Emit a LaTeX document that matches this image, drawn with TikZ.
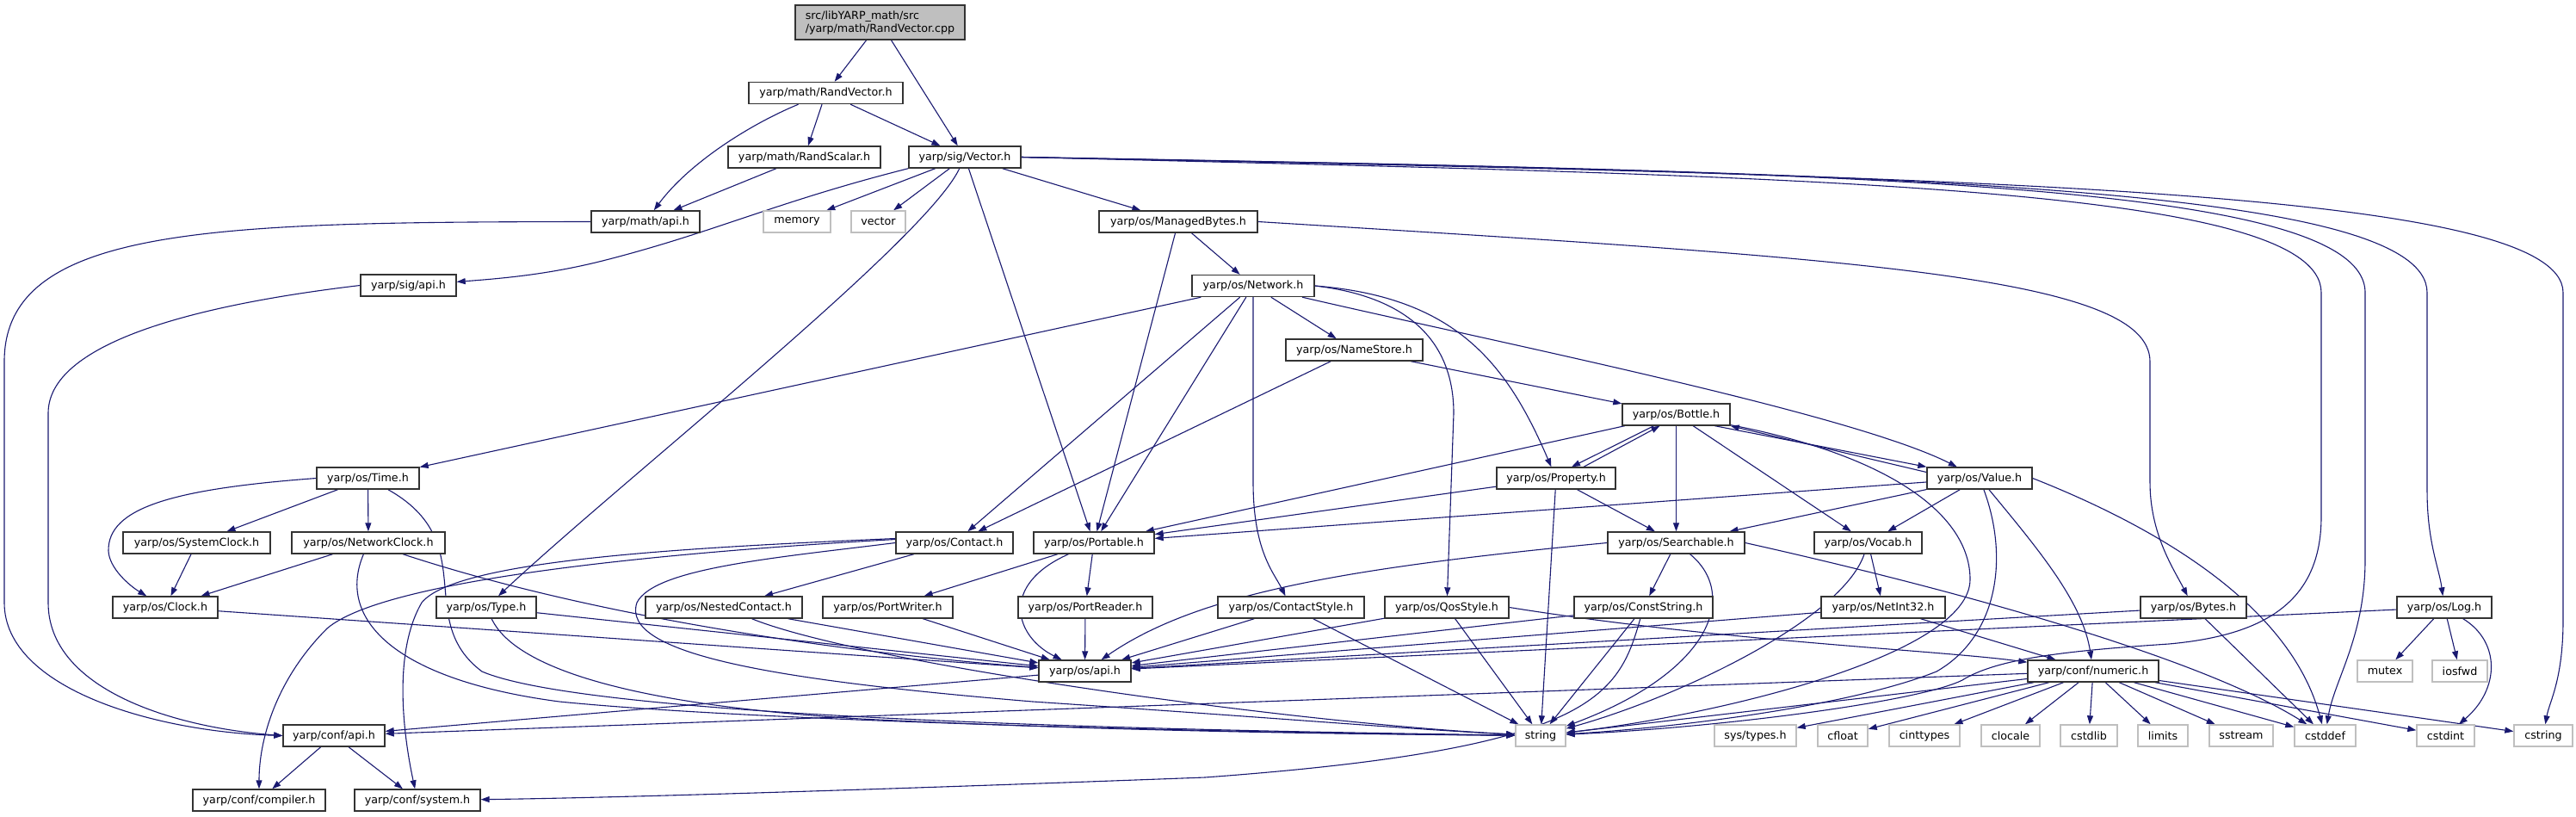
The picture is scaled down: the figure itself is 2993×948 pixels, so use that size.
\documentclass[tikz,border=0pt]{standalone}
\usepackage{fontspec}
\setmainfont{DejaVu Sans}
\usetikzlibrary{arrows.meta}
\definecolor{edgec}{HTML}{191970}
\definecolor{boxc}{HTML}{333333}
\definecolor{extc}{HTML}{BFBFBF}
\definecolor{rootf}{HTML}{BFBFBF}
\pgfdeclarelayer{bg}
\pgfsetlayers{bg,main}
\begin{document}
\begin{tikzpicture}[x=1pt,y=-1pt,
  box/.style={draw=boxc, line width=1.4pt, fill=white, minimum height=25pt, inner sep=0pt,
    font=\fontsize{12.7}{15}\selectfont},
  ext/.style={box, draw=extc},
  rootbox/.style={box, fill=rootf, minimum height=40pt, align=left},
  e/.style={draw=edgec, line width=1.1pt, -{Triangle[length=10pt,width=7pt]}}]
\useasboundingbox (0,0) rectangle (2993,948);

% nodes
\node[rootbox, minimum width=197pt] (root) at (1022.5,26) {src/libYARP\_math/src\\/yarp/math/RandVector.cpp};
\node[box, minimum width=179pt] (randvec) at (959.5,108) {yarp/math/RandVector.h};
\node[box, minimum width=177pt] (randscal) at (934.5,182.5) {yarp/math/RandScalar.h};
\node[box, minimum width=130pt] (vec) at (1121,182.5) {yarp/sig/Vector.h};
\node[box, minimum width=126pt] (mathapi) at (750,257.5) {yarp/math/api.h};
\node[ext, minimum width=78pt] (memory) at (926,257.5) {memory};
\node[ext, minimum width=63pt] (vector) at (1020.5,257.5) {vector};
\node[box, minimum width=184pt] (mbytes) at (1369,257.5) {yarp/os/ManagedBytes.h};
\node[box, minimum width=111pt] (sigapi) at (474.5,331.5) {yarp/sig/api.h};
\node[box, minimum width=142pt] (network) at (1456,332) {yarp/os/Network.h};
\node[box, minimum width=159pt] (namestore) at (1573.5,406.5) {yarp/os/NameStore.h};
\node[box, minimum width=119pt] (time) at (427.5,555.5) {yarp/os/Time.h};
\node[box, minimum width=125pt] (bottle) at (1947.5,481.5) {yarp/os/Bottle.h};
\node[box, minimum width=138pt] (property) at (1808,555.5) {yarp/os/Property.h};
\node[box, minimum width=122pt] (value) at (2300,555.5) {yarp/os/Value.h};
\node[box, minimum width=171pt] (sysclock) at (228.5,630.5) {yarp/os/SystemClock.h};
\node[box, minimum width=178pt] (netclock) at (428,630.5) {yarp/os/NetworkClock.h};
\node[box, minimum width=136pt] (contact) at (1109,630.5) {yarp/os/Contact.h};
\node[box, minimum width=140pt] (portable) at (1271,630.5) {yarp/os/Portable.h};
\node[box, minimum width=159pt] (searchable) at (1947.5,630.5) {yarp/os/Searchable.h};
\node[box, minimum width=125pt] (vocab) at (2170.5,630.5) {yarp/os/Vocab.h};
\node[box, minimum width=122pt] (clock) at (192,705.5) {yarp/os/Clock.h};
\node[box, minimum width=116pt] (type) at (565,705.5) {yarp/os/Type.h};
\node[box, minimum width=182pt] (nested) at (841,705.5) {yarp/os/NestedContact.h};
\node[box, minimum width=151pt] (pwriter) at (1031.5,705.5) {yarp/os/PortWriter.h};
\node[box, minimum width=156pt] (preader) at (1261,705.5) {yarp/os/PortReader.h};
\node[box, minimum width=170pt] (cstyle) at (1500,705.5) {yarp/os/ContactStyle.h};
\node[box, minimum width=144pt] (qos) at (1681,705.5) {yarp/os/QosStyle.h};
\node[box, minimum width=161pt] (cstr) at (1909.5,705.5) {yarp/os/ConstString.h};
\node[box, minimum width=144pt] (netint) at (2188,705.5) {yarp/os/NetInt32.h};
\node[box, minimum width=123pt] (bytes) at (2548.5,705.5) {yarp/os/Bytes.h};
\node[box, minimum width=110pt] (log) at (2840,705.5) {yarp/os/Log.h};
\node[box, minimum width=107pt] (osapi) at (1260.5,779.5) {yarp/os/api.h};
\node[box, minimum width=152pt] (numeric) at (2432,779.5) {yarp/conf/numeric.h};
\node[ext, minimum width=64pt] (mutex) at (2771,779.5) {mutex};
\node[ext, minimum width=64pt] (iosfwd) at (2858,779.5) {iosfwd};
\node[box, minimum width=118pt] (confapi) at (388,854.5) {yarp/conf/api.h};
\node[ext, minimum width=58pt] (string) at (1790,854.5) {string};
\node[ext, minimum width=95pt] (systypes) at (2039.5,854.5) {sys/types.h};
\node[ext, minimum width=58pt] (cfloat) at (2141,854.5) {cfloat};
\node[ext, minimum width=82pt] (cinttypes) at (2236,854.5) {cinttypes};
\node[ext, minimum width=68pt] (clocale) at (2336,854.5) {clocale};
\node[ext, minimum width=66pt] (cstdlib) at (2427,854.5) {cstdlib};
\node[ext, minimum width=58pt] (limits) at (2513,854.5) {limits};
\node[ext, minimum width=74pt] (sstream) at (2604,854.5) {sstream};
\node[ext, minimum width=71pt] (cstddef) at (2701.5,854.5) {cstddef};
\node[ext, minimum width=67pt] (cstdint) at (2841.5,854.5) {cstdint};
\node[ext, minimum width=68pt] (cstring) at (2955,854.5) {cstring};
\node[box, minimum width=154pt] (compiler) at (301,929.5) {yarp/conf/compiler.h};
\node[box, minimum width=146pt] (system) at (485,929.5) {yarp/conf/system.h};

\begin{pgfonlayer}{bg}
% top part
\draw[e] (root) -- (randvec);
\draw[e] (root) -- (vec);
\draw[e] (randvec) .. controls (870,145) and (800,190) .. (mathapi);
\draw[e] (randvec) -- (randscal);
\draw[e] (randvec) -- (vec);
\draw[e] (randscal) -- (mathapi);
\draw[e] (vec.south west) .. controls (900,235) and (830,270) .. (700,303) .. controls (640,318) and (590,323) .. (sigapi);
\draw[e] (vec) -- (memory);
\draw[e] (vec) -- (vector);
\draw[e] (vec) .. controls (1075,280) and (720,560) .. (type);
\draw[e] (vec) -- (portable);
\draw[e] (vec) -- (mbytes);
\draw[e] (vec.east) .. controls (2100,205) and (2697,215) .. (2697,340) -- (2697,600) .. controls (2697,700) and (2630,738) .. (2520,748) .. controls (2400,756) and (2320,765) .. (2280,790) .. controls (2230,815) and (2000,845) .. (string);
\draw[e] (vec.east) .. controls (2150,200) and (2748,210) .. (2748,340) -- (2748,650) .. controls (2748,740) and (2712,790) .. (cstddef);
\draw[e] (vec.east) .. controls (2200,200) and (2820,215) .. (2820,340) -- (2820,570) .. controls (2820,630) and (2834,660) .. (log);
\draw[e] (vec.east) .. controls (2300,205) and (2978,220) .. (2978,340) -- (2978,720) .. controls (2978,790) and (2962,815) .. (cstring);
\draw[e] (mathapi.west) .. controls (250,258) and (5,262) .. (5,420) -- (5,700) .. controls (5,800) and (180,850) .. (confapi.west);
\draw[e] (sigapi.west) .. controls (220,355) and (56,400) .. (56,480) -- (56,700) .. controls (56,800) and (200,845) .. (confapi.west);
\draw[e] (mbytes) -- (network);
\draw[e] (mbytes) -- (portable);
\draw[e] (mbytes.east) .. controls (2150,300) and (2498,320) .. (2498,420) -- (2498,560) .. controls (2498,620) and (2525,660) .. (bytes);
% Network
\draw[e] (network) -- (time);
\draw[e] (network) -- (contact);
\draw[e] (network) -- (portable);
\draw[e] (network) -- (1456,560) .. controls (1456,640) and (1480,665) .. (cstyle);
\draw[e] (network) -- (namestore);
\draw[e] (network.east) .. controls (1640,345) and (1689,400) .. (1689,480) -- (qos);
\draw[e] (network.east) .. controls (1690,345) and (1750,420) .. (property);
\draw[e] (network) .. controls (1750,400) and (2150,480) .. (value);
\draw[e] (namestore) -- (contact);
\draw[e] (namestore) -- (bottle);
% Bottle / Property / Value
\draw[e] ([xshift=-26pt]bottle.south) -- ([xshift=18pt]property.north);
\draw[e] ([xshift=32pt]property.north) -- ([xshift=-19pt]bottle.south);
\draw[e] (bottle) -- (searchable);
\draw[e] (bottle) -- (vocab);
\draw[e] ([xshift=45pt]bottle.south) -- (value.north west);
\draw[e] ([yshift=7pt]value.west) -- (bottle.south east);
\draw[e] (bottle) -- (portable);
\draw[e] (bottle) .. controls (2200,530) and (2289,600) .. (2289,673) .. controls (2289,760) and (2000,830) .. (string);
\draw[e] (property) -- (searchable);
\draw[e] (property) -- (portable);
\draw[e] (property) -- (string);
\draw[e] (value) -- (portable);
\draw[e] (value) -- (searchable);
\draw[e] (value) -- (vocab);
\draw[e] (value) .. controls (2335,650) and (2320,740) .. (2250,780) .. controls (2150,820) and (1950,845) .. (string);
\draw[e] (value) .. controls (2370,640) and (2420,700) .. (numeric);
\draw[e] (value.east) .. controls (2500,610) and (2660,700) .. (cstddef);
% Searchable, Vocab, ...
\draw[e] (searchable.west) .. controls (1560,660) and (1390,690) .. (osapi);
\draw[e] (searchable) -- (cstr);
\draw[e] (searchable) .. controls (2020,690) and (1990,780) .. (string);
\draw[e] (searchable.east) .. controls (2250,680) and (2550,760) .. (cstddef);
\draw[e] (vocab) -- (netint);
\draw[e] (vocab) .. controls (2140,720) and (1950,810) .. (string);
\draw[e] (netint) -- (osapi);
\draw[e] (netint) -- (numeric);
\draw[e] (cstr) -- (osapi);
\draw[e] (cstr) -- (string);
\draw[e] (cstr) .. controls (1880,810) and (1850,870) .. (1400,903) .. controls (1000,918) and (700,927) .. (system);
\draw[e] (qos) -- (osapi);
\draw[e] (qos) -- (string);
\draw[e] (qos.east) .. controls (2000,745) and (2250,755) .. (numeric);
\draw[e] (cstyle) -- (osapi);
\draw[e] (cstyle) -- (string);
\draw[e] (bytes) -- (osapi);
\draw[e] (bytes) -- (cstddef);
\draw[e] (log) -- (osapi);
\draw[e] (log) -- (mutex);
\draw[e] (log) -- (iosfwd);
\draw[e] (log) .. controls (2905,745) and (2905,800) .. (cstdint);
% numeric
\draw[e] (numeric) -- (confapi);
\draw[e] (numeric) -- (string);
\draw[e] (numeric) -- (systypes);
\draw[e] (numeric) -- (cfloat);
\draw[e] (numeric) -- (cinttypes);
\draw[e] (numeric) -- (clocale);
\draw[e] (numeric) -- (cstdlib);
\draw[e] (numeric) -- (limits);
\draw[e] (numeric) -- (sstream);
\draw[e] (numeric) -- (cstddef);
\draw[e] (numeric) -- (cstdint);
\draw[e] (numeric) -- (cstring);
\draw[e] (osapi) -- (confapi);
% left part
\draw[e] (time.west) .. controls (200,568) and (125,590) .. (126,640) .. controls (127,660) and (150,680) .. (clock);
\draw[e] (time) -- (sysclock);
\draw[e] (time) -- (netclock);
\draw[e] (time) .. controls (560,630) and (480,720) .. (560,780) .. controls (700,840) and (1500,850) .. (string);
\draw[e] (sysclock) -- (clock);
\draw[e] (netclock) -- (clock);
\draw[e] (netclock) .. controls (700,720) and (1000,760) .. (osapi);
\draw[e] (netclock) .. controls (390,720) and (460,790) .. (650,815) .. controls (900,840) and (1500,852) .. (string);
\draw[e] (clock) -- (osapi);
\draw[e] (type) -- (osapi);
\draw[e] (type) .. controls (600,780) and (750,820) .. (1000,835) .. controls (1300,850) and (1600,853) .. (string);
\draw[e] (contact) -- (nested);
\draw[e] (contact.west) .. controls (900,648) and (760,660) .. (740,700) .. controls (720,760) and (900,790) .. (1200,815) .. controls (1500,835) and (1650,848) .. (string);
\draw[e] ([yshift=4pt]contact.west) .. controls (800,640) and (450,670) .. (380,730) .. controls (320,790) and (301,860) .. (compiler);
\draw[e] ([yshift=5pt]contact.west) .. controls (800,636) and (530,650) .. (490,700) .. controls (455,760) and (470,860) .. (system);
\draw[e] (nested) -- (osapi);
\draw[e] (nested) .. controls (1000,770) and (1500,840) .. (string);
\draw[e] (pwriter) -- (osapi);
\draw[e] (preader) -- (osapi);
\draw[e] (portable) -- (pwriter);
\draw[e] (portable) -- (preader);
\draw[e] (portable) .. controls (1160,680) and (1180,740) .. (osapi);
\draw[e] (confapi) -- (compiler);
\draw[e] (confapi) -- (system);
\end{pgfonlayer}
\end{tikzpicture}
\end{document}
